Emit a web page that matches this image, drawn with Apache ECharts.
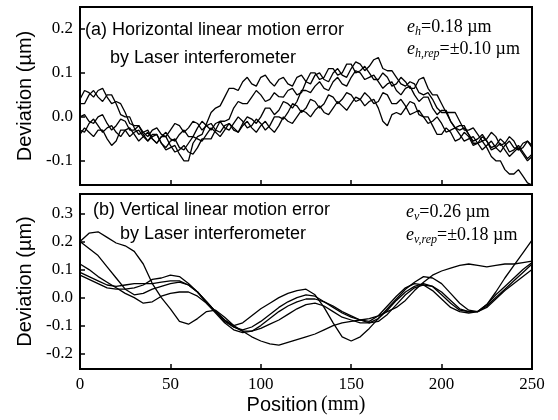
<!DOCTYPE html>
<html><head><meta charset="utf-8">
<script src="https://cdn.jsdelivr.net/npm/echarts@6/dist/echarts.min.js"></script>
<style>html,body{margin:0;padding:0;background:#fff}#c{width:558px;height:420px}</style>
</head><body><div id="c"></div>
<script>
// Positions along the axis (mm): panel (a) every 2.5 mm, panel (b) every 5 mm
const hPositionMM = [0,2.5,5,7.5,10,12.5,15,17.5,20,22.5,25,27.5,30,32.5,35,37.5,40,42.5,45,47.5,50,52.5,55,57.5,60,62.5,65,67.5,70,72.5,75,77.5,80,82.5,85,87.5,90,92.5,95,97.5,100,102.5,105,107.5,110,112.5,115,117.5,120,122.5,125,127.5,130,132.5,135,137.5,140,142.5,145,147.5,150,152.5,155,157.5,160,162.5,165,167.5,170,172.5,175,177.5,180,182.5,185,187.5,190,192.5,195,197.5,200,202.5,205,207.5,210,212.5,215,217.5,220,222.5,225,227.5,230,232.5,235,237.5,240,242.5,245,247.5,250];
const vPositionMM = [0,5,10,15,20,25,30,35,40,45,50,55,60,65,70,75,80,85,90,95,100,105,110,115,120,125,130,135,140,145,150,155,160,165,170,175,180,185,190,195,200,205,210,215,220,225,230,235,240,245,250];

// (a) Horizontal linear motion error, 5 runs (µm)
const hRun1 = [0.04,0.06,0.055,0.045,0.06,0.065,0.045,0.03,0.035,0.03,0.01,-0.015,-0.02,-0.02,-0.04,-0.055,-0.045,-0.04,-0.06,-0.075,-0.07,-0.065,-0.085,-0.1,-0.1,-0.06,-0.045,-0.04,-0.015,0.01,0.02,0.025,0.045,0.065,0.065,0.06,0.08,0.09,0.075,0.07,0.09,0.095,0.08,0.07,0.085,0.09,0.075,0.07,0.09,0.095,0.08,0.075,0.095,0.1,0.085,0.08,0.1,0.11,0.095,0.09,0.11,0.125,0.12,0.105,0.115,0.13,0.135,0.11,0.105,0.105,0.09,0.075,0.07,0.08,0.075,0.055,0.05,0.055,0.04,0.02,0.01,0.01,-0.01,-0.025,-0.03,-0.025,-0.04,-0.06,-0.06,-0.055,-0.07,-0.09,-0.1,-0.1,-0.12,-0.13,-0.13,-0.12,-0.135,-0.15,-0.155];
const hRun2 = [0.03,0.03,0.05,0.06,0.045,0.035,0.05,0.05,0.03,0.005,0.0,0.0,-0.025,-0.04,-0.035,-0.03,-0.05,-0.06,-0.045,-0.045,-0.065,-0.08,-0.075,-0.065,-0.08,-0.085,-0.07,-0.05,-0.05,-0.05,-0.03,-0.01,-0.01,-0.005,0.02,0.035,0.03,0.03,0.045,0.06,0.05,0.035,0.04,0.055,0.046,0.045,0.06,0.065,0.05,0.055,0.08,0.1,0.1,0.085,0.09,0.11,0.11,0.095,0.1,0.12,0.12,0.1,0.105,0.115,0.1,0.085,0.085,0.1,0.09,0.07,0.075,0.09,0.08,0.065,0.065,0.085,0.09,0.065,0.05,0.05,0.03,0.01,0.01,0.01,-0.01,-0.03,-0.03,-0.025,-0.04,-0.055,-0.05,-0.035,-0.045,-0.065,-0.06,-0.045,-0.055,-0.075,-0.07,-0.055,-0.065];
const hRun3 = [0.0,0.005,-0.01,-0.015,0.0,0.005,-0.015,-0.03,-0.02,-0.005,-0.01,-0.03,-0.03,-0.02,-0.035,-0.045,-0.03,-0.025,-0.04,-0.045,-0.03,-0.015,-0.02,-0.035,-0.025,-0.01,-0.015,-0.03,-0.02,-0.015,-0.03,-0.035,-0.02,-0.015,-0.03,-0.035,-0.015,0.0,-0.005,-0.015,0.0,0.02,0.02,0.005,0.015,0.035,0.03,0.02,0.035,0.06,0.06,0.055,0.07,0.08,0.065,0.06,0.08,0.09,0.075,0.07,0.09,0.105,0.1,0.085,0.09,0.095,0.08,0.065,0.075,0.08,0.06,0.05,0.065,0.07,0.05,0.035,0.045,0.045,0.02,0.005,0.015,0.015,-0.01,-0.025,-0.02,-0.02,-0.04,-0.055,-0.05,-0.04,-0.055,-0.07,-0.065,-0.05,-0.06,-0.08,-0.075,-0.065,-0.08,-0.095,-0.085];
const hRun4 = [-0.03,-0.035,-0.015,-0.005,-0.02,-0.035,-0.025,-0.02,-0.035,-0.045,-0.03,-0.025,-0.04,-0.055,-0.045,-0.035,-0.05,-0.06,-0.045,-0.035,-0.05,-0.055,-0.04,-0.03,-0.045,-0.045,-0.025,-0.01,-0.02,-0.03,-0.015,-0.01,-0.025,-0.03,-0.015,0.0,-0.01,-0.025,-0.02,-0.005,-0.015,-0.03,-0.02,0.0,0.0,-0.005,0.01,0.03,0.025,0.01,0.02,0.04,0.035,0.02,0.03,0.05,0.045,0.03,0.04,0.055,0.05,0.035,0.04,0.055,0.045,0.03,0.035,0.055,0.05,0.03,0.03,0.04,0.025,0.005,0.01,0.015,0.0,-0.015,-0.01,0.0,-0.015,-0.035,-0.03,-0.025,-0.04,-0.055,-0.05,-0.045,-0.06,-0.075,-0.065,-0.055,-0.07,-0.08,-0.065,-0.055,-0.07,-0.075,-0.06,-0.055,-0.07];
const hRun5 = [-0.04,-0.025,-0.035,-0.045,-0.03,-0.03,-0.05,-0.065,-0.055,-0.03,-0.03,-0.045,-0.035,-0.03,-0.045,-0.055,-0.04,-0.04,-0.06,-0.07,-0.055,-0.05,-0.07,-0.075,-0.06,-0.045,-0.05,-0.055,-0.04,-0.025,-0.035,-0.045,-0.03,-0.015,-0.025,-0.035,-0.02,-0.01,-0.025,-0.035,-0.02,-0.01,-0.025,-0.035,-0.02,0.0,-0.01,-0.015,0.0,0.015,0.01,0.0,0.015,0.025,0.01,0.005,0.02,0.035,0.025,0.015,0.03,0.045,0.04,0.025,0.035,0.04,0.02,-0.01,-0.02,0.005,0.01,0.005,0.02,0.035,0.03,0.005,0.0,0.0,-0.02,-0.04,-0.04,-0.025,-0.035,-0.055,-0.05,-0.035,-0.045,-0.065,-0.06,-0.045,-0.055,-0.075,-0.07,-0.06,-0.075,-0.09,-0.08,-0.07,-0.085,-0.1,-0.09];

// (b) Vertical linear motion error, 5 runs (µm)
const vRun1 = [0.2,0.23,0.235,0.215,0.195,0.185,0.165,0.12,0.05,0.0,-0.04,-0.085,-0.095,-0.075,-0.05,-0.045,-0.07,-0.1,-0.12,-0.14,-0.155,-0.165,-0.17,-0.16,-0.15,-0.14,-0.13,-0.115,-0.1,-0.09,-0.085,-0.08,-0.075,-0.065,-0.05,-0.035,-0.01,0.025,0.055,0.08,0.095,0.105,0.115,0.12,0.115,0.11,0.115,0.12,0.12,0.125,0.13];
const vRun2 = [0.2,0.175,0.15,0.11,0.07,0.03,0.01,0.015,0.03,0.04,0.05,0.055,0.045,0.02,-0.015,-0.05,-0.08,-0.105,-0.115,-0.105,-0.085,-0.06,-0.035,-0.015,0.0,0.01,0.005,-0.015,-0.035,-0.055,-0.07,-0.08,-0.085,-0.065,-0.03,0.005,0.035,0.05,0.045,0.025,-0.005,-0.035,-0.05,-0.055,-0.05,-0.025,0.01,0.04,0.07,0.1,0.125];
const vRun3 = [0.12,0.1,0.075,0.055,0.035,0.015,0.0,-0.02,-0.015,0.005,0.015,0.02,0.02,0.005,-0.02,-0.05,-0.085,-0.105,-0.12,-0.12,-0.11,-0.095,-0.08,-0.06,-0.04,-0.025,-0.02,-0.03,-0.05,-0.07,-0.08,-0.09,-0.09,-0.075,-0.045,-0.01,0.02,0.04,0.05,0.04,0.01,-0.02,-0.045,-0.05,-0.05,-0.03,0.0,0.03,0.06,0.09,0.12];
const vRun4 = [0.09,0.075,0.06,0.045,0.04,0.045,0.05,0.05,0.05,0.055,0.06,0.06,0.045,0.02,-0.02,-0.055,-0.09,-0.115,-0.125,-0.12,-0.1,-0.075,-0.05,-0.03,-0.015,-0.005,-0.005,-0.015,-0.03,-0.05,-0.065,-0.08,-0.09,-0.085,-0.06,-0.025,0.01,0.035,0.045,0.04,0.02,-0.01,-0.04,-0.05,-0.05,-0.035,-0.005,0.025,0.05,0.075,0.1];
const vRun5 = [0.08,0.065,0.05,0.035,0.03,0.03,0.035,0.045,0.065,0.07,0.08,0.075,0.05,0.02,-0.015,-0.05,-0.08,-0.1,-0.09,-0.065,-0.04,-0.02,0.0,0.015,0.025,0.03,0.01,-0.035,-0.09,-0.14,-0.155,-0.14,-0.11,-0.075,-0.04,-0.005,0.03,0.055,0.075,0.07,0.05,0.015,-0.02,-0.045,-0.05,-0.025,0.02,0.07,0.115,0.16,0.205];

const serif = '"Liberation Serif","Times New Roman",serif';
const sans = '"Liberation Sans",Arial,sans-serif';

function mk(xs, arr, idx) {
  return {
    type: 'line', xAxisIndex: idx, yAxisIndex: idx,
    data: xs.map((x, i) => [x, arr[i]]),
    showSymbol: false, symbol: 'none', silent: true,
    lineStyle: { color: '#000', width: 1.3 }
  };
}

function yAxisCfg(idx, min, max) {
  return {
    type: 'value', gridIndex: idx, min: min, max: max, splitNumber: 5,
    axisLine: { show: true, onZero: false, lineStyle: { color: '#000', width: 2 } },
    axisTick: { show: true, inside: true, length: 5, lineStyle: { color: '#000', width: 1.5 } },
    splitLine: { show: false },
    axisLabel: {
      showMinLabel: false, showMaxLabel: false, margin: 7,
      fontFamily: serif, fontSize: 17, color: '#000',
      formatter: v => v.toFixed(1)
    },
    name: 'Deviation (µm)', nameLocation: 'middle', nameGap: 45, nameRotate: 90,
    nameTextStyle: { fontFamily: sans, fontSize: 20, color: '#000' }
  };
}

function xAxisCfg(idx, labels) {
  const c = {
    type: 'value', gridIndex: idx, min: 0, max: 250, interval: 50,
    axisLine: { show: true, onZero: false, lineStyle: { color: '#000', width: 2 } },
    axisTick: { show: true, inside: true, length: 5, lineStyle: { color: '#000', width: 1.5 } },
    splitLine: { show: false },
    axisLabel: { show: labels, margin: 7, fontFamily: serif, fontSize: 17, color: '#000' }
  };
  if (labels) {
    c.name = '{s|Position} {t|(mm)}';
    c.nameLocation = 'middle';
    c.nameGap = 26;
    c.nameTextStyle = {
      rich: {
        s: { fontFamily: sans, fontSize: 20, color: '#000' },
        t: { fontFamily: serif, fontSize: 20, color: '#000' }
      }
    };
  }
  return c;
}

const richE = {
  i: { fontFamily: serif, fontStyle: 'italic', fontSize: 18, color: '#000', lineHeight: 22, verticalAlign: 'middle' },
  s: { fontFamily: serif, fontStyle: 'italic', fontSize: 12, color: '#000', lineHeight: 22, verticalAlign: 'bottom' },
  n: { fontFamily: serif, fontSize: 18, color: '#000', lineHeight: 22, verticalAlign: 'middle' }
};

function txt(x, y, text, font) {
  return { type: 'text', x: x, y: y, silent: true,
    style: { text: text, font: font, fill: '#000', verticalAlign: 'middle', align: 'left' } };
}
function rtxt(x, y, text) {
  return { type: 'text', x: x, y: y, silent: true,
    style: { text: text, rich: richE, fill: '#000', verticalAlign: 'middle', align: 'left' } };
}

const chart = echarts.init(document.getElementById('c'));
chart.setOption({
  animation: false,
  backgroundColor: '#fff',
  grid: [
    { left: 80, top: 7, width: 452, height: 178, show: true, borderColor: '#000', borderWidth: 2, backgroundColor: 'transparent' },
    { left: 80, top: 194, width: 452, height: 175, show: true, borderColor: '#000', borderWidth: 2, backgroundColor: 'transparent' }
  ],
  xAxis: [xAxisCfg(0, false), xAxisCfg(1, true)],
  yAxis: [yAxisCfg(0, -0.155, 0.25), yAxisCfg(1, -0.255, 0.37)],
  series: [
    mk(hPositionMM, hRun1, 0), mk(hPositionMM, hRun2, 0), mk(hPositionMM, hRun3, 0), mk(hPositionMM, hRun4, 0), mk(hPositionMM, hRun5, 0),
    mk(vPositionMM, vRun1, 1), mk(vPositionMM, vRun2, 1), mk(vPositionMM, vRun3, 1), mk(vPositionMM, vRun4, 1), mk(vPositionMM, vRun5, 1)
  ],
  graphic: [
    txt(85, 30, '(a) Horizontal linear motion error', '18px ' + sans),
    txt(110, 58, 'by Laser interferometer', '18px ' + sans),
    rtxt(407, 27, '{i|e}{s|h}{n|=0.18 µm}'),
    rtxt(407, 49, '{i|e}{s|h,rep}{n|=±0.10 µm}'),
    txt(93, 210, '(b) Vertical linear motion error', '18px ' + sans),
    txt(120, 234, 'by Laser interferometer', '18px ' + sans),
    rtxt(406, 212, '{i|e}{s|v}{n|=0.26 µm}'),
    rtxt(406, 235, '{i|e}{s|v,rep}{n|=±0.18 µm}')
  ]
});
</script>
</body></html>
